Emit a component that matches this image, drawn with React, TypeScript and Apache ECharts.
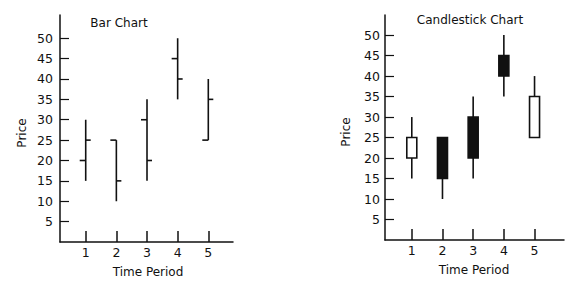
import React, { useEffect, useRef } from "react";
import * as echarts from "echarts";

const periods = [1, 2, 3, 4, 5];
const opens = [20, 25, 30, 45, 25];
const highs = [30, 25, 35, 50, 40];
const lows = [15, 10, 15, 35, 25];
const closes = [25, 15, 20, 40, 35];
const priceTicks = [5, 10, 15, 20, 25, 30, 35, 40, 45, 50];
const leftTitle = "Bar Chart";
const rightTitle = "Candlestick Chart";
const xName = "Time Period";
const yName = "Price";

const INK = "#111111";
const FONT = "DejaVu Sans";

export default function App() {
  const ref = useRef<HTMLDivElement>(null);
  useEffect(() => {
    if (!ref.current) return;
    const chart = echarts.init(ref.current, null, { renderer: "svg" });
    const ohlc = periods.map((p, i) => [p, opens[i], highs[i], lows[i], closes[i]]);

    const xAxisBase = (gridIndex: number, min: number, max: number) => ({
      type: "value",
      gridIndex,
      min,
      max,
      axisLine: { show: true, onZero: false, lineStyle: { color: INK, width: 1.5 } },
      axisTick: { show: true, inside: true, length: 11, customValues: periods, lineStyle: { color: INK, width: 1.5 } },
      axisLabel: { customValues: periods, margin: 4, color: INK, fontFamily: FONT, fontSize: 12.5 },
      splitLine: { show: false },
    });
    const yAxisBase = (gridIndex: number, max: number, margin: number) => ({
      type: "value",
      gridIndex,
      min: 0,
      max,
      axisLine: { show: true, onZero: false, lineStyle: { color: INK, width: 1.5 } },
      axisTick: { show: true, inside: true, length: 9, customValues: priceTicks, lineStyle: { color: INK, width: 1.2 } },
      axisLabel: { customValues: priceTicks, margin, color: INK, fontFamily: FONT, fontSize: 12.5 },
      splitLine: { show: false },
    });

    const text = (t: string, x: number, y: number, rot = 0) => ({
      type: "text",
      x,
      y,
      rotation: rot,
      style: {
        text: t,
        fill: INK,
        font: `12px '${FONT}'`,
        textAlign: "center",
        textVerticalAlign: "middle",
      },
    });

    chart.setOption({
      animation: false,
      backgroundColor: "#ffffff",
      grid: [
        { left: 60, top: 15, width: 173, height: 227 },
        { left: 385, top: 15, width: 179, height: 225 },
      ],
      xAxis: [xAxisBase(0, 0.161, 5.806), xAxisBase(1, 0.127, 5.96)],
      yAxis: [yAxisBase(0, 55.7, 7), yAxisBase(1, 54.9, 5)],
      graphic: [
        text(leftTitle, 119, 23),
        text(rightTitle, 470, 20),
        text(xName, 148, 272),
        text(xName, 474, 270),
        text(yName, 22, 133, Math.PI / 2),
        text(yName, 346, 132, Math.PI / 2),
      ],
      series: [
        {
          type: "custom",
          xAxisIndex: 0,
          yAxisIndex: 0,
          data: ohlc,
          encode: { x: 0, y: [1, 2, 3, 4] },
          renderItem: (_params: any, api: any) => {
            const x = api.value(0);
            const pH = api.coord([x, api.value(2)]);
            const pL = api.coord([x, api.value(3)]);
            const pO = api.coord([x, api.value(1)]);
            const pC = api.coord([x, api.value(4)]);
            const st = { stroke: INK, lineWidth: 1.6 };
            return {
              type: "group",
              children: [
                { type: "line", shape: { x1: pH[0], y1: pH[1], x2: pL[0], y2: pL[1] }, style: st },
                { type: "line", shape: { x1: pO[0] - 6, y1: pO[1], x2: pO[0], y2: pO[1] }, style: st },
                { type: "line", shape: { x1: pC[0], y1: pC[1], x2: pC[0] + 5, y2: pC[1] }, style: st },
              ],
            };
          },
        },
        {
          type: "custom",
          xAxisIndex: 1,
          yAxisIndex: 1,
          data: ohlc,
          encode: { x: 0, y: [1, 2, 3, 4] },
          renderItem: (_params: any, api: any) => {
            const x = api.value(0);
            const o = api.value(1);
            const c = api.value(4);
            const pH = api.coord([x, api.value(2)]);
            const pL = api.coord([x, api.value(3)]);
            const pTop = api.coord([x, Math.max(o, c)]);
            const pBot = api.coord([x, Math.min(o, c)]);
            const up = c > o;
            const w = 10;
            return {
              type: "group",
              children: [
                { type: "line", shape: { x1: pH[0], y1: pH[1], x2: pL[0], y2: pL[1] }, style: { stroke: INK, lineWidth: 1.6 } },
                {
                  type: "rect",
                  shape: { x: pTop[0] - w / 2, y: pTop[1], width: w, height: pBot[1] - pTop[1] },
                  style: { fill: up ? "#ffffff" : INK, stroke: INK, lineWidth: 1.6 },
                },
              ],
            };
          },
        },
      ],
    });
    return () => chart.dispose();
  }, []);
  return <div ref={ref} style={{ position: "absolute", left: 0, top: 0, width: 572, height: 284 }} />;
}
